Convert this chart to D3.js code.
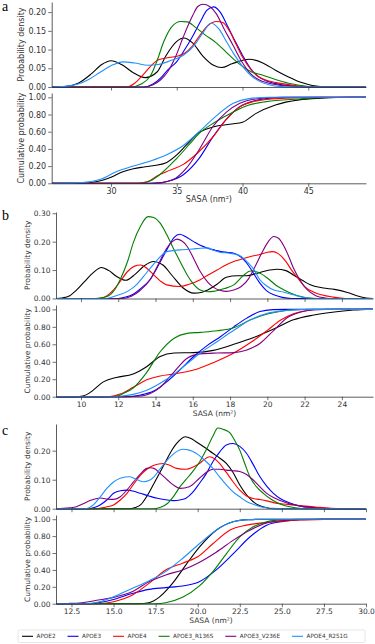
<!DOCTYPE html>
<html>
<head>
<meta charset="utf-8">
<script src="https://cdnjs.cloudflare.com/ajax/libs/d3/7.8.5/d3.min.js"></script>
<style>
  body { margin: 0; background: #fff; }
  svg { display: block; font-family: "DejaVu Sans", sans-serif; }
</style>
</head>
<body>
<div id="chart"></div>
<script>
/*
 * Series names and colours, in legend order.
 */
var series = ["APOE2", "APOE3", "APOE4", "APOE3_R136S", "APOE3_V236E", "APOE4_R251G"]
  , colors = ["#000000", "#0000ff", "#ff0000", "#008000", "#800080", "#1e90ff"];

/*
 * Panel a : [SASA, value] points, one list per series.
 */
var aDomain = [25.49, 49.39]
  , aTicks = [30, 35, 40, 45]
  , aDensityTicks = [0, 0.05, 0.10, 0.15, 0.20];

var aDensity = [
  [[25.5,0],[26.5,0.001],[27.5,0.01],[28.5,0.035],[29.3,0.06],[30,0.07],[30.8,0.06],[31.7,0.038],[32.6,0.025],[33.5,0.04],[34.2,0.085],[35,0.122],[35.55,0.131],[36.2,0.118],[37,0.082],[37.8,0.058],[38.4,0.052],[39.2,0.062],[40.5,0.074],[41.5,0.065],[42.5,0.045],[43.5,0.027],[44.5,0.012],[45.3,0.004],[46.5,0],[49.4,0]],
  [[25.5,0],[32.5,0],[33.2,0.008],[33.8,0.025],[34.3,0.045],[35,0.068],[35.5,0.094],[36.2,0.135],[36.8,0.175],[37.3,0.205],[37.8,0.214],[38.3,0.2],[38.9,0.16],[39.4,0.125],[40,0.085],[40.6,0.05],[41.3,0.025],[42,0.014],[43,0.006],[44,0.002],[45,0],[49.4,0]],
  [[25.5,0],[31.2,0],[31.8,0.01],[32.5,0.035],[33,0.055],[33.6,0.073],[34.3,0.078],[35,0.082],[35.6,0.09],[36.2,0.11],[36.8,0.14],[37.4,0.165],[38,0.175],[38.5,0.172],[39,0.15],[39.5,0.115],[40,0.08],[40.6,0.048],[41.2,0.028],[42,0.016],[43,0.009],[44,0.004],[45,0.001],[46,0],[49.4,0]],
  [[25.5,0],[31.5,0],[32.3,0.008],[33,0.03],[33.5,0.07],[34,0.12],[34.6,0.16],[35.3,0.175],[35.8,0.174],[36.4,0.16],[37.2,0.138],[38,0.118],[38.7,0.095],[39.3,0.075],[40,0.055],[40.7,0.04],[41.5,0.032],[42.5,0.02],[43.5,0.01],[44.5,0.004],[45.5,0],[49.4,0]],
  [[25.5,0],[32.5,0],[33.2,0.006],[33.8,0.02],[34.3,0.04],[34.9,0.08],[35.5,0.134],[36.2,0.19],[36.6,0.215],[37,0.221],[37.5,0.215],[38,0.196],[38.6,0.155],[39.3,0.11],[39.9,0.07],[40.5,0.04],[41.2,0.02],[42,0.01],[43,0.004],[44,0.001],[45,0],[49.4,0]],
  [[25.5,0],[26.5,0.002],[27.5,0.008],[28.3,0.02],[29.2,0.04],[30.2,0.06],[30.9,0.067],[31.8,0.064],[32.8,0.058],[33.6,0.06],[34.5,0.07],[35.5,0.085],[36.3,0.11],[37,0.145],[37.6,0.171],[38.2,0.155],[38.8,0.12],[39.4,0.085],[40,0.055],[40.6,0.032],[41.3,0.015],[42,0.006],[43,0.001],[44,0],[49.4,0]]
];

var aCumulative = [
  [[25.5,0],[27.5,0],[28.5,0.01],[29.2,0.03],[30,0.07],[30.9,0.135],[31.7,0.17],[32.5,0.19],[33.2,0.205],[34.2,0.24],[35,0.33],[35.7,0.44],[36.7,0.59],[37.9,0.66],[39.2,0.69],[40,0.71],[41,0.81],[42.5,0.91],[44.3,0.97],[46,0.99],[48,1],[49.4,1]],
  [[25.5,0],[33,0],[33.8,0.005],[34.2,0.02],[35.5,0.1],[36.7,0.29],[37.75,0.54],[38.8,0.75],[39.8,0.89],[40.8,0.955],[41.8,0.985],[43,1],[49.4,1]],
  [[25.5,0],[32,0],[32.8,0.02],[33.5,0.085],[34.2,0.135],[35.5,0.22],[36.7,0.37],[37.75,0.54],[38.8,0.75],[39.8,0.89],[40.8,0.95],[41.8,0.975],[44.3,0.995],[46,1],[49.4,1]],
  [[25.5,0],[32,0],[32.6,0.01],[33,0.03],[33.7,0.1],[35,0.29],[36,0.46],[36.7,0.58],[37.9,0.71],[39.3,0.83],[40.5,0.91],[41.8,0.95],[44.3,0.98],[46,0.995],[49.4,1]],
  [[25.5,0],[33,0],[33.8,0.008],[34.7,0.04],[35.7,0.17],[36.7,0.39],[37.75,0.66],[38.8,0.83],[39.8,0.93],[41,0.98],[42.5,0.997],[44,1],[49.4,1]],
  [[25.5,0],[27,0.002],[28.5,0.02],[29.2,0.046],[30.4,0.135],[31.7,0.2],[33,0.26],[34.2,0.33],[35.5,0.44],[36.7,0.6],[37.9,0.77],[39.3,0.93],[40.5,0.985],[42,1],[49.4,1]]
];

/*
 * Panel b
 */
var bDomain = [8.66, 25.67]
  , bTicks = [10, 12, 14, 16, 18, 20, 22, 24]
  , bDensityTicks = [0, 0.10, 0.20, 0.30];

var bDensity = [
  [[8.66,0],[9,0.002],[9.4,0.01],[9.77,0.03],[10.2,0.06],[10.66,0.091],[11.1,0.109],[11.5,0.098],[11.9,0.078],[12.4,0.064],[12.9,0.085],[13.4,0.115],[13.9,0.13],[14.4,0.118],[14.9,0.08],[15.5,0.036],[16.05,0.019],[16.5,0.022],[16.8,0.03],[17.3,0.05],[17.8,0.075],[18.4,0.08],[18.9,0.08],[19.4,0.088],[19.9,0.097],[20.5,0.103],[21,0.098],[21.4,0.083],[21.9,0.063],[22.3,0.048],[23,0.037],[23.6,0.032],[24.3,0.021],[24.8,0.01],[25.3,0.002],[25.67,0]],
  [[8.66,0],[12,0],[12.4,0.005],[12.8,0.015],[13.2,0.035],[13.7,0.066],[14.1,0.11],[14.6,0.171],[15,0.215],[15.3,0.226],[15.6,0.218],[16.05,0.2],[16.4,0.187],[16.8,0.177],[17.2,0.17],[17.5,0.165],[17.9,0.162],[18.2,0.159],[18.6,0.145],[18.9,0.124],[19.2,0.095],[19.6,0.054],[19.95,0.028],[20.35,0.013],[20.8,0.004],[21.3,0],[25.67,0]],
  [[8.66,0],[11,0],[11.4,0.01],[11.75,0.03],[12.1,0.06],[12.5,0.095],[12.85,0.113],[13.2,0.118],[13.5,0.108],[13.9,0.083],[14.25,0.062],[14.6,0.048],[15.3,0.042],[15.8,0.05],[16.4,0.066],[16.8,0.082],[17.3,0.1],[17.7,0.115],[18.2,0.13],[18.6,0.138],[19.1,0.148],[19.6,0.155],[20,0.163],[20.3,0.165],[20.6,0.157],[21,0.13],[21.3,0.1],[21.6,0.075],[22,0.042],[22.5,0.022],[22.9,0.013],[23.5,0.005],[24.2,0],[25.67,0]],
  [[8.66,0],[10.6,0],[11,0.002],[11.4,0.007],[11.8,0.03],[12.1,0.066],[12.5,0.13],[12.8,0.195],[13.2,0.255],[13.6,0.288],[13.9,0.285],[14.25,0.265],[14.6,0.225],[15,0.171],[15.4,0.12],[15.7,0.083],[16.05,0.05],[16.4,0.03],[16.8,0.024],[17.1,0.025],[17.7,0.035],[18.2,0.048],[18.7,0.08],[19.1,0.097],[19.5,0.092],[20,0.072],[20.5,0.045],[20.9,0.03],[21.4,0.015],[21.8,0.007],[22.4,0.001],[23,0],[25.67,0]],
  [[8.66,0],[12.2,0],[12.7,0.008],[13.2,0.03],[13.7,0.065],[14.1,0.113],[14.6,0.177],[14.9,0.2],[15.15,0.209],[15.4,0.203],[15.7,0.183],[16.05,0.14],[16.4,0.095],[16.8,0.058],[17.1,0.04],[17.5,0.028],[17.8,0.025],[18.2,0.03],[18.6,0.042],[19,0.07],[19.3,0.107],[19.7,0.16],[20,0.195],[20.35,0.218],[20.6,0.212],[20.9,0.183],[21.2,0.14],[21.4,0.107],[21.8,0.06],[22.15,0.03],[22.6,0.01],[23.1,0.002],[23.5,0],[25.67,0]],
  [[8.66,0],[11.3,0],[11.8,0.008],[12.5,0.025],[13,0.05],[13.35,0.077],[13.7,0.105],[14.1,0.136],[14.6,0.165],[15.3,0.171],[16,0.174],[16.4,0.177],[16.8,0.178],[17.1,0.17],[17.5,0.162],[17.9,0.16],[18.2,0.157],[18.6,0.148],[18.9,0.13],[19.3,0.1],[19.6,0.066],[19.95,0.045],[20.35,0.03],[20.9,0.022],[21.4,0.013],[21.9,0.004],[22.5,0],[25.67,0]]
];

var bCumulative = [
  [[8.66,0],[9.7,0],[10.1,0.008],[10.4,0.035],[10.66,0.076],[11.2,0.17],[11.9,0.22],[12.8,0.26],[13.5,0.34],[14.25,0.46],[15,0.5],[16.05,0.505],[17.1,0.53],[18.2,0.6],[19.3,0.68],[20.4,0.78],[21.4,0.88],[22.5,0.935],[23.6,0.97],[24.5,0.99],[25.3,1],[25.67,1]],
  [[8.66,0],[12.3,0],[12.8,0.005],[13.2,0.02],[13.9,0.065],[14.6,0.17],[15.3,0.305],[16.05,0.46],[16.8,0.59],[17.5,0.69],[18.2,0.8],[18.9,0.9],[19.6,0.975],[20.3,0.997],[21,1],[25.67,1]],
  [[8.66,0],[11.3,0],[11.8,0.01],[12.1,0.03],[12.8,0.107],[13.5,0.19],[14.25,0.237],[15,0.26],[16.05,0.305],[17.1,0.39],[18.2,0.5],[19.1,0.62],[20,0.76],[20.7,0.875],[21.4,0.95],[22.1,0.985],[23,0.998],[24,1],[25.67,1]],
  [[8.66,0],[11.5,0],[12,0.01],[12.3,0.04],[12.8,0.1],[13.5,0.27],[14.25,0.515],[15,0.67],[15.7,0.725],[16.4,0.737],[17.3,0.755],[18.2,0.79],[19.1,0.88],[20,0.946],[20.9,0.985],[21.8,0.998],[22.5,1],[25.67,1]],
  [[8.66,0],[12.6,0],[13,0.005],[13.5,0.02],[14.25,0.107],[15,0.285],[15.7,0.44],[16.4,0.49],[17.3,0.5],[18.2,0.505],[18.9,0.535],[19.6,0.61],[20.35,0.76],[21.1,0.91],[21.8,0.97],[22.5,0.995],[23.2,1],[25.67,1]],
  [[8.66,0],[11.8,0],[12.3,0.01],[12.8,0.027],[13.5,0.07],[14.25,0.153],[15,0.26],[15.7,0.38],[16.4,0.5],[17.3,0.63],[18.2,0.76],[19.1,0.88],[20,0.955],[20.9,0.985],[21.8,0.997],[22.5,1],[25.67,1]]
];

/*
 * Panel c
 */
var cDomain = [11.58, 30]
  , cTicks = [12.5, 15, 17.5, 20, 22.5, 25, 27.5, 30]
  , cDensityTicks = [0, 0.10, 0.20];

var cDensity = [
  [[11.58,0],[16,0],[16.3,0.004],[16.6,0.013],[17,0.045],[17.4,0.087],[17.8,0.13],[18.2,0.174],[18.5,0.205],[18.75,0.225],[19,0.24],[19.25,0.248],[19.6,0.242],[19.9,0.231],[20.4,0.212],[20.9,0.191],[21.3,0.175],[21.7,0.156],[22.1,0.125],[22.5,0.082],[22.9,0.048],[23.3,0.024],[23.7,0.01],[24.1,0.003],[24.5,0],[30,0]],
  [[11.58,0],[13.5,0],[13.9,0.005],[14.2,0.013],[14.6,0.03],[15,0.053],[15.4,0.062],[15.8,0.064],[16.2,0.06],[16.6,0.053],[17.1,0.044],[17.6,0.036],[18.1,0.031],[18.55,0.028],[19,0.031],[19.3,0.036],[19.7,0.056],[20.1,0.087],[20.5,0.12],[20.9,0.162],[21.3,0.195],[21.7,0.22],[22.1,0.225],[22.5,0.215],[22.9,0.191],[23.3,0.152],[23.7,0.11],[24.1,0.078],[24.5,0.053],[24.9,0.035],[25.3,0.024],[25.7,0.015],[26.1,0.009],[26.8,0.004],[27.5,0.001],[28,0],[30,0]],
  [[11.58,0],[14,0],[14.5,0.005],[15,0.013],[15.4,0.03],[15.8,0.053],[16.2,0.085],[16.6,0.116],[17,0.137],[17.4,0.15],[17.95,0.156],[18.4,0.148],[18.75,0.139],[19.3,0.136],[19.7,0.143],[20.1,0.156],[20.4,0.17],[20.7,0.179],[21,0.172],[21.3,0.156],[21.7,0.125],[22.1,0.093],[22.5,0.064],[22.9,0.044],[23.3,0.035],[23.7,0.032],[24.1,0.027],[24.5,0.021],[25.1,0.016],[25.7,0.013],[26.4,0.009],[27,0.006],[27.8,0.002],[28.5,0],[30,0]],
  [[11.58,0],[17.4,0],[17.8,0.005],[18.2,0.018],[18.6,0.045],[18.95,0.076],[19.3,0.1],[19.7,0.128],[20.1,0.16],[20.5,0.202],[20.9,0.25],[21.2,0.278],[21.5,0.274],[21.9,0.262],[22.2,0.235],[22.5,0.202],[22.8,0.155],[23.1,0.11],[23.5,0.075],[23.9,0.053],[24.3,0.035],[24.7,0.021],[25.2,0.01],[25.8,0.003],[26.5,0],[30,0]],
  [[11.58,0],[12,0.001],[12.4,0.003],[12.8,0.007],[13.2,0.017],[13.6,0.028],[14.2,0.037],[14.8,0.032],[15.1,0.033],[15.4,0.041],[15.8,0.065],[16.2,0.093],[16.6,0.12],[16.97,0.139],[17.2,0.141],[17.4,0.139],[17.8,0.12],[18.2,0.099],[18.6,0.08],[18.95,0.07],[19.5,0.076],[20.1,0.105],[20.5,0.125],[20.9,0.136],[21.3,0.136],[21.7,0.133],[22.1,0.131],[22.5,0.128],[22.9,0.118],[23.3,0.099],[23.7,0.075],[24.1,0.053],[24.6,0.036],[25.1,0.024],[25.6,0.015],[26.1,0.009],[27,0.003],[28,0],[30,0]],
  [[11.58,0],[13.3,0],[13.8,0.013],[14.2,0.04],[14.6,0.07],[15,0.092],[15.4,0.105],[15.97,0.11],[16.4,0.1],[16.8,0.093],[17.1,0.097],[17.4,0.11],[17.8,0.14],[18.2,0.168],[18.7,0.195],[19.1,0.205],[19.5,0.202],[19.9,0.191],[20.4,0.168],[20.9,0.139],[21.3,0.11],[21.7,0.082],[22.1,0.058],[22.5,0.041],[22.9,0.025],[23.3,0.015],[23.8,0.006],[24.5,0.001],[25,0],[30,0]]
];

var cCumulative = [
  [[11.58,0],[16.5,0],[17.1,0.012],[17.7,0.075],[18.5,0.24],[19.3,0.46],[20.1,0.67],[21.1,0.87],[22.1,0.97],[23,0.995],[24,1],[30,1]],
  [[11.58,0],[13.5,0],[14.1,0.012],[15,0.05],[16.1,0.12],[17.1,0.17],[18.1,0.19],[19.1,0.21],[20,0.25],[21.1,0.4],[22.1,0.59],[23.1,0.79],[24.1,0.93],[25.1,0.975],[26.1,0.993],[27.5,1],[30,1]],
  [[11.58,0],[14,0],[15,0.024],[16.1,0.1],[17.1,0.24],[18.1,0.4],[19.1,0.48],[20,0.555],[20.9,0.71],[21.9,0.87],[22.9,0.93],[24,0.96],[25,0.975],[26,0.99],[27.5,0.998],[29,1],[30,1]],
  [[11.58,0],[17.5,0],[18.1,0.012],[19.1,0.075],[20.1,0.21],[20.9,0.38],[21.7,0.59],[22.5,0.79],[23.3,0.91],[24.1,0.97],[25,0.993],[26,1],[30,1]],
  [[11.58,0],[12.3,0.003],[13.1,0.012],[14.1,0.043],[15,0.075],[16.1,0.14],[17.1,0.26],[18.1,0.34],[19.1,0.4],[20,0.48],[21.1,0.61],[22.1,0.75],[23.1,0.87],[24.1,0.957],[25.1,0.985],[26.1,0.996],[27.5,1],[30,1]],
  [[11.58,0],[13.3,0],[14.1,0.02],[15,0.083],[16.1,0.18],[17.1,0.27],[18.1,0.38],[19.1,0.535],[20.1,0.71],[21.1,0.87],[22.1,0.97],[23,0.995],[24,1],[30,1]]
];

var cumulativeTicks = [0, 0.2, 0.4, 0.6, 0.8, 1.0];


/*
 * Layout of the three stacked panels (pixels).
 */
var width = 375
  , height = 644
  , panels = [
      { letter: "a", letterY: 11, density: aDensity, cumulative: aCumulative,
        domain: aDomain, ticks: aTicks, dTicks: aDensityTicks, fmt: d3.format("d"),
        left: 51.7, right: 366, dTop: 2, dBottom: 87, dMax: 0.227, cTop: 93, cBottom: 183.3,
        font: 8, labelOff: 28 },
      { letter: "b", letterY: 220, density: bDensity, cumulative: bCumulative,
        domain: bDomain, ticks: bTicks, dTicks: bDensityTicks, fmt: d3.format("d"),
        left: 56, right: 373, dTop: 212, dBottom: 298.5, dMax: 0.3043, cTop: 305, cBottom: 396.7,
        font: 7.5, labelOff: 26.5 },
      { letter: "c", letterY: 435, density: cDensity, cumulative: cCumulative,
        domain: cDomain, ticks: cTicks, dTicks: cDensityTicks, fmt: d3.format(".1f"),
        left: 56, right: 366, dTop: 424, dBottom: 508.7, dMax: 0.292, cTop: 515, cBottom: 603.7,
        font: 7.5, labelOff: 26.5 }
    ];

var svg = d3.select('#chart').append('svg')
  .attr('width', width)
  .attr('height', height);

panels.forEach(drawPanel);
drawLegend();


/*
 * One panel: density axes on top, cumulative axes below.
 */
function drawPanel(p, k) {
  var x = d3.scaleLinear().domain(p.domain).range([p.left, p.right])
    , yd = d3.scaleLinear().domain([0, p.dMax]).range([p.dBottom, p.dTop])
    , yc = d3.scaleLinear().domain([0, 1.05]).range([p.cBottom, p.cTop]);

  var clipId = 'clip' + k;
  svg.append('clipPath').attr('id', clipId)
    .append('rect')
    .attr('x', p.left).attr('y', 0)
    .attr('width', p.right - p.left).attr('height', height);

  drawCurves(p.density, x, yd, clipId);
  drawCurves(p.cumulative, x, yc, clipId);

  // density axes: tick marks only on x
  styleAxis(svg.append('g')
    .attr('transform', 'translate(0,' + p.dBottom + ')')
    .call(d3.axisBottom(x).tickValues(p.ticks).tickFormat('')
      .tickSize(3.5).tickSizeOuter(0)), p.font);
  styleAxis(svg.append('g')
    .attr('transform', 'translate(' + p.left + ',0)')
    .call(d3.axisLeft(yd).tickValues(p.dTicks).tickFormat(d3.format('.2f'))
      .tickSize(3.5).tickPadding(2).tickSizeOuter(0)), p.font);

  // cumulative axes
  styleAxis(svg.append('g')
    .attr('transform', 'translate(0,' + p.cBottom + ')')
    .call(d3.axisBottom(x).tickValues(p.ticks).tickFormat(p.fmt)
      .tickSize(3.5).tickPadding(1.5).tickSizeOuter(0)), p.font);
  styleAxis(svg.append('g')
    .attr('transform', 'translate(' + p.left + ',0)')
    .call(d3.axisLeft(yc).tickValues(cumulativeTicks).tickFormat(d3.format('.2f'))
      .tickSize(3.5).tickPadding(2).tickSizeOuter(0)), p.font);

  // labels
  label(p.left - p.labelOff, (p.dTop + p.dBottom) / 2, 'Probability density', -90, p.font);
  label(p.left - p.labelOff, (p.cTop + p.cBottom) / 2, 'Cumulative probability', -90, p.font);
  label((p.left + p.right) / 2, p.cBottom + 19, 'SASA (nm\u00b2)', 0, p.font);

  svg.append('text')
    .attr('x', 2)
    .attr('y', p.letterY)
    .style('font-family', '"Liberation Serif", "DejaVu Serif", serif')
    .style('font-size', '14px')
    .attr('fill', '#000')
    .text(p.letter);
}

function drawCurves(data, x, y, clipId) {
  var line = d3.line()
    .x(function(d) { return x(d[0]); })
    .y(function(d) { return y(d[1]); })
    .curve(d3.curveMonotoneX);

  svg.append('g')
    .attr('clip-path', 'url(#' + clipId + ')')
    .selectAll('path')
    .data(data)
    .enter()
    .append('path')
    .attr('d', line)
    .attr('fill', 'none')
    .attr('stroke-width', 1.1)
    .attr('stroke', function(d, i) { return colors[i]; });
}

function styleAxis(g, size) {
  g.select('.domain').attr('stroke', '#333').attr('stroke-width', 0.8);
  g.selectAll('.tick line').attr('stroke', '#333').attr('stroke-width', 0.7);
  g.selectAll('.tick text')
    .attr('fill', '#333')
    .style('font-size', size + 'px')
    .style('font-family', '"DejaVu Sans", sans-serif');
}

function label(x, y, txt, rot, size) {
  svg.append('text')
    .attr('transform', 'translate(' + x + ',' + y + ') rotate(' + rot + ')')
    .attr('text-anchor', 'middle')
    .attr('fill', '#333')
    .style('font-size', size + 'px')
    .text(txt);
}


/*
 * Legend strip under the last panel.
 */
function drawLegend() {
  var g = svg.append('g')
    , box = g.append('rect')
        .attr('x', 18).attr('y', 630)
        .attr('width', 347).attr('height', 12.5)
        .attr('rx', 1.5)
        .attr('fill', '#fff')
        .attr('stroke', '#ddd')
        .attr('stroke-width', 0.7)
    , cx = 22;

  series.forEach(function(name, i) {
    g.append('line')
      .attr('x1', cx).attr('x2', cx + 11)
      .attr('y1', 636.3).attr('y2', 636.3)
      .attr('stroke', colors[i])
      .attr('stroke-width', 1.1);
    var t = g.append('text')
      .attr('x', cx + 14.5)
      .attr('y', 638.3)
      .attr('fill', '#333')
      .style('font-size', '5.7px')
      .text(name);
    cx += 14.5 + t.node().getComputedTextLength() + 12;
  });
}
</script>
</body>
</html>
